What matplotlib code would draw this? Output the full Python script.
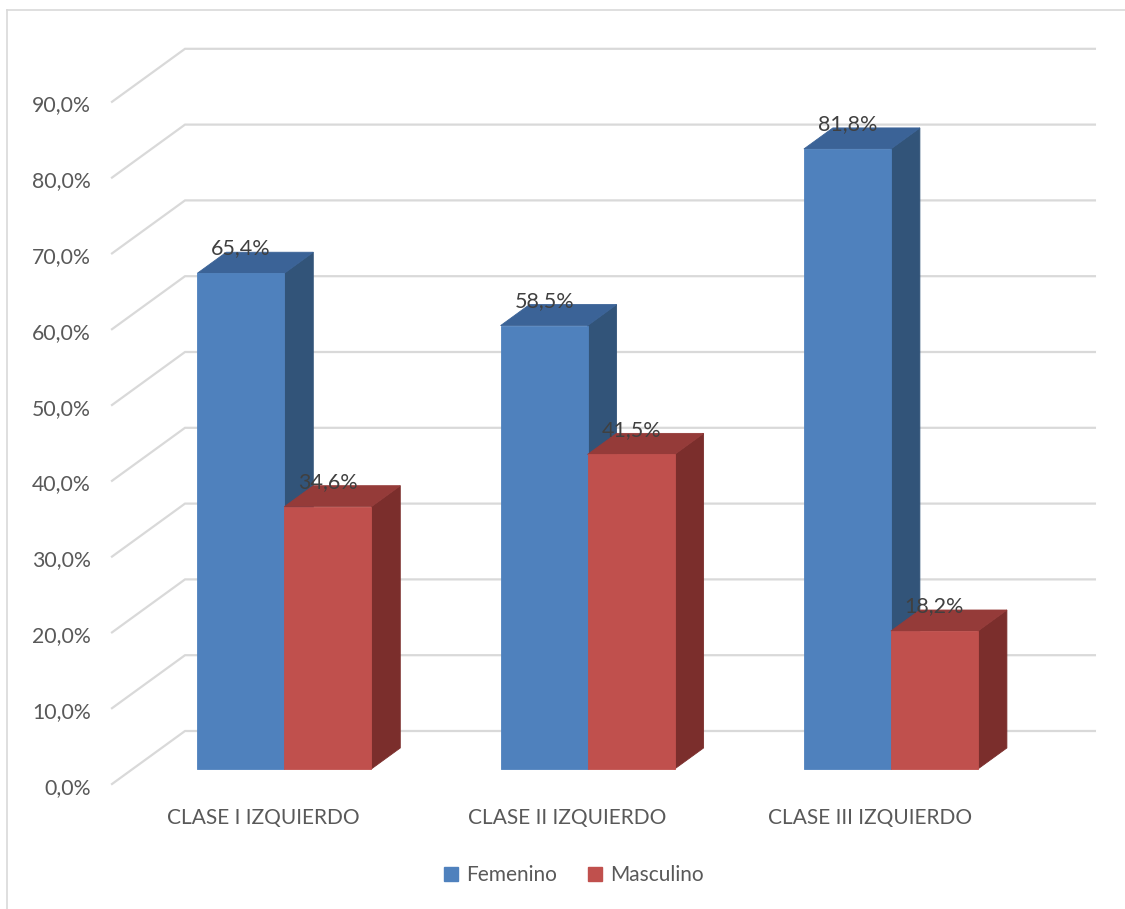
import numpy as np
import matplotlib
matplotlib.use("Agg")
from matplotlib import pyplot as plt
from matplotlib.patches import Polygon, Patch
from matplotlib.lines import Line2D

categories = ["CLASE I IZQUIERDO", "CLASE II IZQUIERDO", "CLASE III IZQUIERDO"]
series_names = ["Femenino", "Masculino"]
femenino = [65.4, 58.5, 81.8]
masculino = [34.6, 41.5, 18.2]
y_ticks = [0, 10, 20, 30, 40, 50, 60, 70, 80, 90]

# face colours: front, side, top
colours = {
    "Femenino": ("#4F81BD", "#325479", "#3B6397"),
    "Masculino": ("#C0504D", "#7B2E2C", "#953B39"),
}

plt.rcParams['font.family'] = ['Lato', 'DejaVu Sans']

W, H = 1125, 909
fig = plt.figure(figsize=(W / 100, H / 100), dpi=100)
ax = fig.add_axes([0, 0, 1, 1])

# oblique projection: x in category units, y in percent
cat_px = 303.3      # pixels per category
pct_px = 7.58       # pixels per percent
x0_px, y0_px = 112, 784
ax.set_xlim(-x0_px / cat_px, (W - x0_px) / cat_px)
ax.set_ylim((y0_px - H) / pct_px, y0_px / pct_px)
ax.axis('off')

DX = 73 / cat_px    # full wall depth, horizontal
DY = 53 / pct_px    # full wall depth, vertical


def proj(x, v, d):
    return (x + d * DX, v + d * DY)


grid_c = "#D9D9D9"
ncat = len(categories)
for t in y_ticks:
    a = proj(0, t, 0)
    b = proj(0, t, 1)
    c = proj(ncat, t, 1)
    ax.plot([a[0], b[0], c[0]], [a[1], b[1], c[1]], color=grid_c, lw=1.6,
            solid_joinstyle='miter', zorder=1)
    ax.text(a[0] - 21 / cat_px, t - 0.5, f"{t:.1f}%".replace(".", ","), ha='right',
            va='center', fontsize=15.3, color="#595959")

# bars
bar_w = 87 / cat_px
d_front, d_back = 0.283, 0.68
for i, cat in enumerate(categories):
    xc = i + 0.5
    for j, (name, vals) in enumerate(zip(series_names, [femenino, masculino])):
        v = vals[i]
        front_c, side_c, top_c = colours[name]
        xl = xc - bar_w + j * bar_w
        xr = xl + bar_w
        front = [proj(xl, 0, d_front), proj(xr, 0, d_front),
                 proj(xr, v, d_front), proj(xl, v, d_front)]
        side = [proj(xr, 0, d_front), proj(xr, 0, d_back),
                proj(xr, v, d_back), proj(xr, v, d_front)]
        top = [proj(xl, v, d_front), proj(xr, v, d_front),
               proj(xr, v, d_back), proj(xl, v, d_back)]
        z = 3 + j
        ax.add_patch(Polygon(side, closed=True, fc=side_c, ec=side_c, lw=0.6, zorder=z))
        ax.add_patch(Polygon(top, closed=True, fc=top_c, ec=top_c, lw=0.6, zorder=z))
        ax.add_patch(Polygon(front, closed=True, fc=front_c, ec=front_c, lw=0.6, zorder=z))
        lx, _ = proj((xl + xr) / 2, v, d_front)
        ax.text(lx, v + d_back * DY + 0.5, f"{v:.1f}%".replace(".", ","),
                ha='center', va='center', fontsize=15.5, color="#404040", zorder=10)

    cx, _ = proj(xc, 0, 0)
    ax.text(cx, (y0_px - 818) / pct_px, cat, ha='center', va='center',
            fontsize=15, color="#595959")

handles = [Patch(fc=colours[n][0], ec=colours[n][0]) for n in series_names]
fig.legend(handles, series_names, loc='center', bbox_to_anchor=(574 / W, 1 - 875 / H),
           ncol=2, frameon=False, fontsize=15, handlelength=0.65, handleheight=0.65,
           handletextpad=0.4, columnspacing=1.5, labelcolor="#595959")

# chart frame
fig.add_artist(Line2D([7 / W, 7 / W], [0, 1 - 10 / H], color="#D9D9D9", lw=1.2))
fig.add_artist(Line2D([7 / W, 1], [1 - 10 / H, 1 - 10 / H], color="#D9D9D9", lw=1.2))

fig.savefig("out.png", dpi=100, facecolor="white")
